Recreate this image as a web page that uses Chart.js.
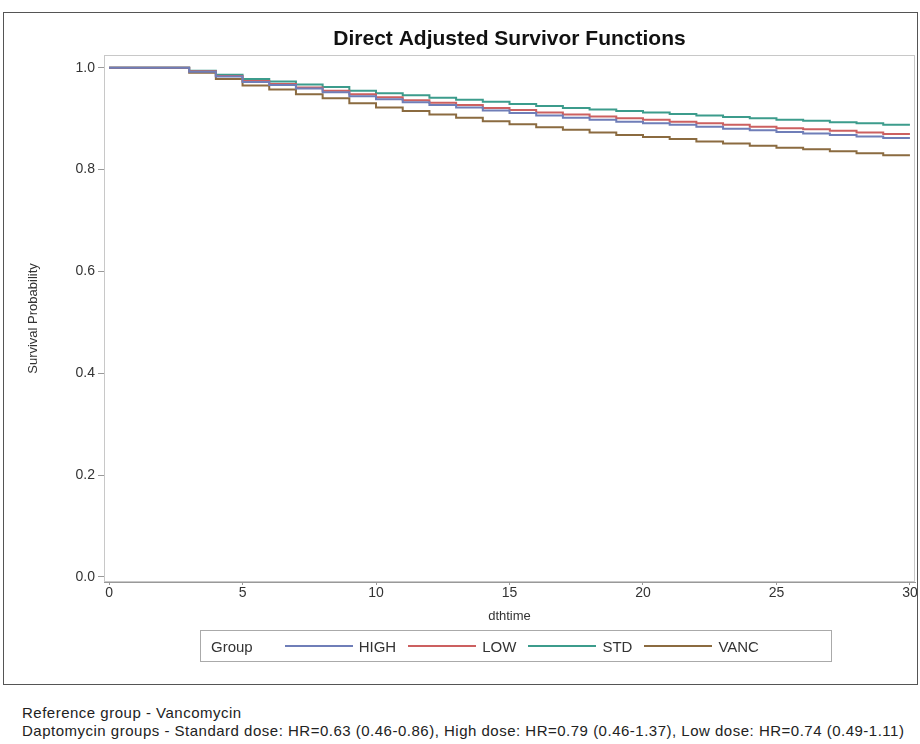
<!DOCTYPE html>
<html>
<head>
<meta charset="utf-8">
<script src="https://cdn.jsdelivr.net/npm/chart.js@4"></script>
<style>
  html, body { margin: 0; padding: 0; background: #fff; overflow: hidden; }
  body { width: 920px; height: 744px; position: relative; font-family: "Liberation Sans", Arial, sans-serif; }
  #frame { position: absolute; left: 3px; top: 12px; width: 915px; height: 673px; border: 1px solid #555; box-sizing: border-box; }
  #wrap { position: absolute; left: 8px; top: 12px; width: 910px; height: 615px; }
  #legend { position: absolute; left: 200px; top: 630px; width: 632px; height: 32px; border: 1px solid #aaa; box-sizing: border-box;
            display: flex; align-items: center; font-size: 15px; color: #333; }
  #legend .grp { margin-left: 10px; margin-right: 32px; }
  #legend .ln { width: 68px; height: 2px; margin-left: 12px; }
  #legend .ln:nth-child(2) { margin-left: 0; }
  #legend .lb { margin-left: 6px; }
  #notes { position: absolute; left: 22px; top: 704px; font-size: 15px; letter-spacing: 0.5px; line-height: 18px; color: #222; }
</style>
</head>
<body>
<div id="wrap"><canvas id="survChart"></canvas></div>
<div id="frame"></div>
<div id="legend"><span class="grp">Group</span></div>
<div id="notes">
  <div>Reference group - Vancomycin</div>
  <div>Daptomycin groups - Standard dose: HR=0.63 (0.46-0.86), High dose: HR=0.79 (0.46-1.37), Low dose: HR=0.74 (0.49-1.11)</div>
</div>
<script>
// Days and adjusted survival per group
const days = [0, 1, 2, 3, 4, 5, 6, 7, 8, 9, 10, 11, 12, 13, 14, 15, 16, 17, 18, 19, 20, 21, 22, 23, 24, 25, 26, 27, 28, 29, 30];
const groups = ['HIGH', 'LOW', 'STD', 'VANC'];
const highSurv = [1, 1, 1, 0.992, 0.983, 0.972, 0.966, 0.959, 0.952, 0.944, 0.938, 0.932, 0.927, 0.922, 0.916, 0.911, 0.906, 0.902, 0.898, 0.894, 0.891, 0.888, 0.884, 0.880, 0.877, 0.874, 0.871, 0.868, 0.865, 0.862, 0.862];
const lowSurv = [1, 1, 1, 0.993, 0.984, 0.974, 0.968, 0.961, 0.955, 0.948, 0.942, 0.936, 0.931, 0.927, 0.921, 0.917, 0.912, 0.908, 0.904, 0.901, 0.898, 0.894, 0.891, 0.888, 0.884, 0.881, 0.879, 0.876, 0.873, 0.870, 0.870];
const stdSurv = [1, 1, 1, 0.994, 0.986, 0.978, 0.973, 0.967, 0.962, 0.955, 0.950, 0.946, 0.941, 0.937, 0.933, 0.929, 0.925, 0.921, 0.918, 0.915, 0.912, 0.909, 0.906, 0.903, 0.901, 0.898, 0.896, 0.893, 0.891, 0.888, 0.888];
const vancSurv = [1, 1, 1, 0.990, 0.978, 0.965, 0.957, 0.948, 0.940, 0.930, 0.922, 0.915, 0.908, 0.902, 0.895, 0.889, 0.883, 0.878, 0.873, 0.868, 0.864, 0.860, 0.855, 0.851, 0.847, 0.843, 0.840, 0.836, 0.832, 0.828, 0.828];
const xTicks = [0, 5, 10, 15, 20, 25, 30];
const yTicks = [0, 0.2, 0.4, 0.6, 0.8, 1.0];

const colors = ['#6f7eb8', '#cc6060', '#3c9c8c', '#8b6b40'];
const series = [highSurv, lowSurv, stdSurv, vancSurv];
const chartTitle = 'Direct Adjusted Survivor Functions';

// Build legend
const legend = document.getElementById('legend');
groups.forEach(function(g, i) {
    const ln = document.createElement('span');
    ln.className = 'ln';
    ln.style.background = colors[i];
    const lb = document.createElement('span');
    lb.className = 'lb';
    lb.textContent = g;
    legend.appendChild(ln);
    legend.appendChild(lb);
});

// Light frame around plot area + title centred over the plot area
const areaBorder = {
    id: 'areaBorder',
    afterDraw(chart) {
        const a = chart.chartArea;
        const ctx = chart.ctx;
        ctx.save();
        ctx.strokeStyle = '#c8c8c8';
        ctx.lineWidth = 1;
        ctx.strokeRect(a.left + 0.5, a.top + 0.5, a.right - a.left - 1, a.bottom - a.top - 1);
        ctx.fillStyle = '#111';
        ctx.font = 'bold 21px "Liberation Sans", Arial, sans-serif';
        ctx.textAlign = 'center';
        ctx.textBaseline = 'middle';
        ctx.fillText(chartTitle, (a.left + a.right) / 2, 27);
        ctx.restore();
    }
};

const ctx = document.getElementById('survChart').getContext('2d');
const survChart = new Chart(ctx, {
    type: 'line',
    data: {
        datasets: groups.map(function(g, i) {
            return {
                label: g,
                data: days.map(function(d, k) { return { x: d, y: series[i][k] }; }),
                borderColor: colors[i],
                backgroundColor: colors[i],
                borderWidth: 2,
                pointRadius: 0,
                stepped: true,
                fill: false
            };
        })
    },
    options: {
        responsive: true,
        maintainAspectRatio: false,
        animation: false,
        layout: { padding: { top: 43, right: 3 } },
        scales: {
            x: {
                type: 'linear',
                min: -0.19,
                max: 30.19,
                afterFit: function(scale) { scale.height = 45; },
                afterBuildTicks: function(scale) { scale.ticks = xTicks.map(v => ({ value: v })); },
                ticks: { font: { size: 14, family: 'Liberation Sans' }, color: '#333', padding: 0, maxRotation: 0 },
                grid: { drawOnChartArea: false, tickLength: 3, color: '#999' },
                border: { color: '#999' },
                title: { display: true, text: 'dthtime', font: { size: 13, family: 'Liberation Sans' }, color: '#333', padding: { top: 4, bottom: 3 } }
            },
            y: {
                min: -0.01,
                max: 1.025,
                afterFit: function(scale) { scale.width = 96; },
                afterBuildTicks: function(scale) { scale.ticks = yTicks.map(v => ({ value: v })); },
                ticks: {
                    font: { size: 14, family: 'Liberation Sans' }, color: '#333', padding: 3,
                    callback: function(v) { return v.toFixed(1); }
                },
                grid: { drawOnChartArea: false, tickLength: 6, color: '#999' },
                border: { color: '#999' },
                title: { display: true, text: 'Survival Probability', font: { size: 13, family: 'Liberation Sans' }, color: '#333', padding: { top: 18, bottom: 4 } }
            }
        },
        plugins: {
            legend: { display: false },
            tooltip: { enabled: false },
            title: { display: false }
        }
    },
    plugins: [areaBorder]
});
</script>
</body>
</html>
